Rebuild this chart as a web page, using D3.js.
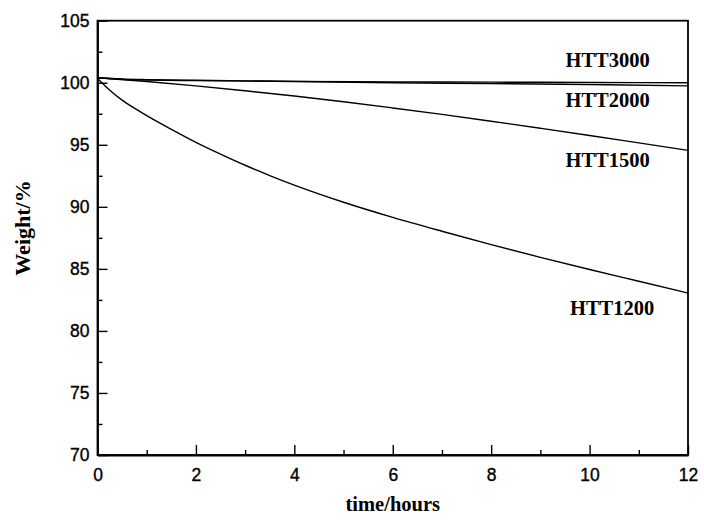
<!DOCTYPE html>
<html>
<head>
<meta charset="utf-8">
<script src="https://cdn.jsdelivr.net/npm/d3@7"></script>
<style>
  html, body { margin: 0; padding: 0; background: #fff; }
  svg { display: block; }
  .tick-label { font-family: "Liberation Sans", Arial, sans-serif; font-size: 17.5px; fill: #000; stroke: #000; stroke-width: 0.35px; }
  .title { font-family: "Liberation Serif", "Times New Roman", serif; font-weight: bold; fill: #000; }
</style>
</head>
<body>
<svg id="chart" width="704" height="521"></svg>
<script>
// Weight retention over time for each heat-treatment temperature
const hours1200 = [0, 0.25, 0.5, 0.75, 1, 1.5, 2, 2.5, 3, 3.5, 4, 5, 6, 7, 8, 9, 10, 11, 12];
const weight1200 = [100.35, 99.4, 98.6, 97.95, 97.35, 96.25, 95.2, 94.25, 93.35, 92.52, 91.75, 90.37, 89.15, 88.03, 86.95, 85.93, 84.95, 84.0, 83.05];

const hours1500 = [0, 1, 2, 3, 4, 5, 6, 7, 8, 9, 10, 11, 12];
const weight1500 = [100.4, 100.1, 99.75, 99.35, 98.93, 98.47, 97.97, 97.45, 96.9, 96.33, 95.75, 95.15, 94.55];

const hours2000 = [0, 0.5, 1, 2, 4, 6, 8, 10, 12];
const weight2000 = [100.4, 100.3, 100.25, 100.2, 100.1, 100.0, 99.93, 99.85, 99.75];

const hours3000 = [0, 0.5, 1, 2, 4, 6, 8, 10, 12];
const weight3000 = [100.4, 100.27, 100.22, 100.17, 100.11, 100.07, 100.05, 100.02, 100.0];

const seriesNames = ["HTT3000", "HTT2000", "HTT1500", "HTT1200"];
const xTicks = [0, 2, 4, 6, 8, 10, 12];
const yTicks = [70, 75, 80, 85, 90, 95, 100, 105];

const series = [
  { name: seriesNames[0], xs: hours3000, ys: weight3000 },
  { name: seriesNames[1], xs: hours2000, ys: weight2000 },
  { name: seriesNames[2], xs: hours1500, ys: weight1500 },
  { name: seriesNames[3], xs: hours1200, ys: weight1200 }
];

const plotLeft = 97.5, plotRight = 688, plotTop = 20.7, plotBottom = 455;

const x = d3.scaleLinear().domain([0, 12]).range([plotLeft, plotRight]);
const y = d3.scaleLinear().domain([70, 105]).range([plotBottom, plotTop]);

const svg = d3.select("#chart");

// frame
svg.append("rect")
  .attr("x", plotLeft).attr("y", plotTop)
  .attr("width", plotRight - plotLeft).attr("height", plotBottom - plotTop)
  .attr("fill", "none").attr("stroke", "#000").attr("stroke-width", 1.8);

// x axis: major ticks every 2 h, minor at odd hours, pointing inward
const xAxis = d3.axisBottom(x).tickValues(xTicks).tickSizeInner(-10).tickSizeOuter(0).tickPadding(14);
const gx = svg.append("g").attr("transform", `translate(0,${plotBottom})`).call(xAxis);
gx.select(".domain").attr("stroke-width", 1.8);
gx.selectAll(".tick line").attr("stroke-width", 1.4);
gx.selectAll("text").attr("class", "tick-label").attr("font-size", null).attr("font-family", null);
const xMinor = d3.axisBottom(x).tickValues(d3.range(1, 12, 2)).tickSize(-5).tickFormat("");
svg.append("g").attr("transform", `translate(0,${plotBottom})`).call(xMinor)
  .call(g => g.select(".domain").remove())
  .selectAll(".tick line").attr("stroke-width", 1.4);

// y axis: major ticks every 5 %, minor at 2.5 % intervals
const yAxis = d3.axisLeft(y).tickValues(yTicks).tickSizeInner(-10).tickSizeOuter(0).tickPadding(8);
const gy = svg.append("g").attr("transform", `translate(${plotLeft},0)`).call(yAxis);
gy.select(".domain").attr("stroke-width", 1.8);
gy.selectAll(".tick line").attr("stroke-width", 1.4);
gy.selectAll("text").attr("class", "tick-label").attr("font-size", null).attr("font-family", null);
const yMinor = d3.axisLeft(y).tickValues(d3.range(72.5, 105, 5)).tickSize(-5).tickFormat("");
svg.append("g").attr("transform", `translate(${plotLeft},0)`).call(yMinor)
  .call(g => g.select(".domain").remove())
  .selectAll(".tick line").attr("stroke-width", 1.4);

// curves
const line = d3.line()
  .x(d => x(d[0]))
  .y(d => y(d[1]))
  .curve(d3.curveMonotoneX);

svg.append("g").selectAll("path")
  .data(series)
  .join("path")
  .attr("d", s => line(s.xs.map((v, i) => [v, s.ys[i]])))
  .attr("fill", "none")
  .attr("stroke", "#000")
  .attr("stroke-width", 1.4);

// series labels
const labelPos = [
  { x: 565.5, y: 66.5 },
  { x: 565.5, y: 107.3 },
  { x: 565.5, y: 166.5 },
  { x: 570, y: 315 }
];
svg.append("g").selectAll("text")
  .data(seriesNames)
  .join("text")
  .attr("class", "title")
  .attr("font-size", 20.5)
  .attr("x", (d, i) => labelPos[i].x)
  .attr("y", (d, i) => labelPos[i].y)
  .text(d => d);

// axis titles
svg.append("text")
  .attr("class", "title")
  .attr("font-size", 20.5)
  .attr("text-anchor", "middle")
  .attr("x", (plotLeft + plotRight) / 2)
  .attr("y", 511)
  .text("time/hours");

svg.append("text")
  .attr("class", "title")
  .attr("font-size", 22)
  .attr("text-anchor", "middle")
  .attr("transform", "translate(30,228) rotate(-90)")
  .text("Weight/%");
</script>
</body>
</html>
